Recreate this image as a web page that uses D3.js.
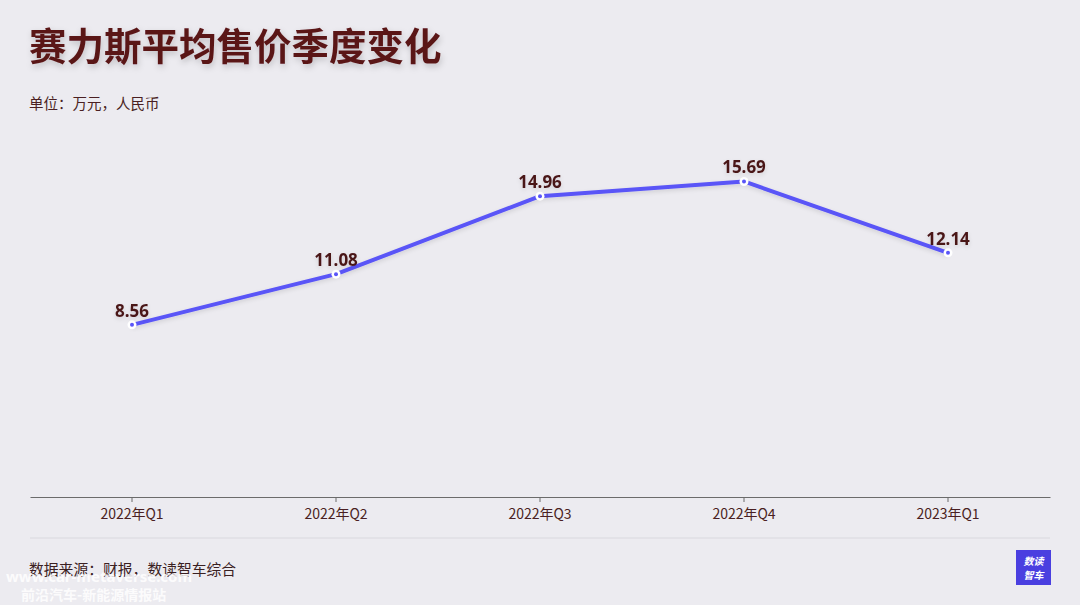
<!DOCTYPE html>
<html><head><meta charset="utf-8">
<script src="https://cdn.jsdelivr.net/npm/d3@7"></script>
<style>
html,body{margin:0;padding:0;background:#ecebf0;}
svg{display:block;font-family:"Noto Sans CJK SC","Noto Sans",sans-serif;}
</style></head><body>
<svg id="c" width="1080" height="605"></svg>
<script>
const categories = ["2022年Q1","2022年Q2","2022年Q3","2022年Q4","2023年Q1"];
const values = [8.56, 11.08, 14.96, 15.69, 12.14];
const titleText = "赛力斯平均售价季度变化";
const unitText = "单位：万元，人民币";
const sourceText = "数据来源：财报，数读智车综合";

const svg = d3.select("#c");
const W = 1080, H = 605;
svg.append("rect").attr("width",W).attr("height",H).attr("fill","#ecebf0");

const defs = svg.append("defs");
const f = defs.append("filter").attr("id","sh").attr("x","-10%").attr("y","-30%").attr("width","120%").attr("height","160%");
f.append("feDropShadow").attr("dx",1).attr("dy",3).attr("stdDeviation",3).attr("flood-color","#000").attr("flood-opacity",0.2);
const f2 = defs.append("filter").attr("id","sh2").attr("x","-10%").attr("y","-30%").attr("width","120%").attr("height","160%");
f2.append("feDropShadow").attr("dx",0).attr("dy",2).attr("stdDeviation",2).attr("flood-color","#000").attr("flood-opacity",0.12);

svg.append("text").attr("x",29).attr("y",60).attr("fill","#5a1518")
  .attr("font-size",37.5).attr("font-weight",700).attr("filter","url(#sh)").text(titleText);
svg.append("text").attr("x",29).attr("y",109).attr("fill","#4a1f22")
  .attr("font-size",14.5).text(unitText);

const x = d3.scaleBand().domain(categories).range([30,1050]);
const y = d3.scaleLinear().domain([0,18]).range([497,135]);

const ax = svg.append("g").attr("transform","translate(0,497)")
  .call(d3.axisBottom(x).tickSize(5).tickSizeOuter(0).tickPadding(7));
ax.select(".domain").attr("stroke","#6b6b6b").attr("stroke-width",1.2);
ax.selectAll(".tick line").attr("stroke","#6b6b6b");
ax.selectAll(".tick text").attr("fill","#4a1f22").attr("font-size",14)
  .attr("font-family","'Noto Sans CJK SC',sans-serif");

svg.append("line").attr("x1",30).attr("x2",1050).attr("y1",538).attr("y2",538)
  .attr("stroke","#d9d8de").attr("stroke-width",1);

const cx = d => x(d) + x.bandwidth()/2;
const data = categories.map((c,i)=>({c,v:values[i]}));

const line = d3.line().x(d=>cx(d.c)).y(d=>y(d.v));
svg.append("path").datum(data).attr("d",line).attr("fill","none")
  .attr("stroke","#5a55f7").attr("stroke-width",4).attr("stroke-linejoin","round")
  .attr("filter","url(#sh2)");

const pts = svg.append("g").selectAll("g").data(data).join("g")
  .attr("transform",d=>`translate(${cx(d.c)},${y(d.v)})`);
pts.append("circle").attr("r",4.5).attr("fill","#ffffff");
pts.append("circle").attr("r",2).attr("fill","#5a55f7");
pts.append("text").attr("y",-8).attr("text-anchor","middle").attr("fill","#4a1518")
  .attr("font-size",17).attr("font-weight",700).attr("font-family","'Noto Sans',sans-serif")
  .attr("filter","url(#sh2)").text(d=>d.v.toFixed(2));

svg.append("text").attr("x",29).attr("y",575).attr("fill","#3a2022")
  .attr("font-size",14.8).text(sourceText);

// watermark
svg.append("text").attr("x",6).attr("y",582).attr("fill","#ffffff").attr("fill-opacity",0.85)
  .attr("font-size",15).attr("font-weight",700).attr("font-family","'Noto Sans',sans-serif").text("www.car-metaverse.com");
svg.append("text").attr("x",21).attr("y",600).attr("fill","#ffffff").attr("fill-opacity",0.85)
  .attr("font-size",14).attr("font-weight",700).text("前沿汽车-新能源情报站");

// logo
const lg = svg.append("g").attr("transform","translate(1016,550)");
lg.append("rect").attr("width",35).attr("height",35).attr("fill","#4a3fe0");
lg.append("text").attr("x",17.5).attr("y",15).attr("text-anchor","middle").attr("fill","#fff")
  .attr("font-size",10).attr("font-weight",700).attr("font-style","italic").text("数读");
lg.append("text").attr("x",17.5).attr("y",29).attr("text-anchor","middle").attr("fill","#fff")
  .attr("font-size",10).attr("font-weight",700).attr("font-style","italic").text("智车");
</script></body></html>
